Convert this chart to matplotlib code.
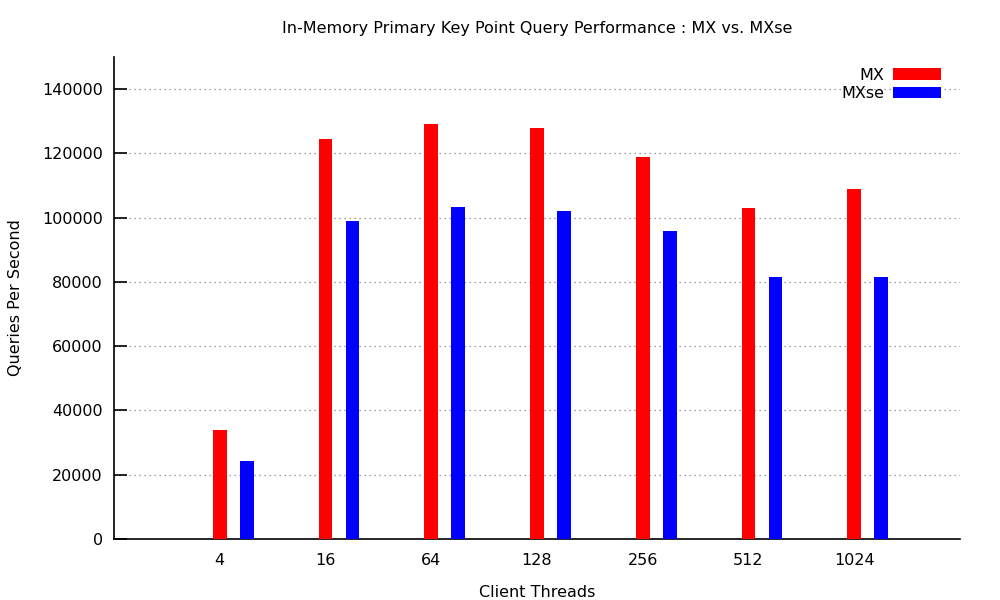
import matplotlib
matplotlib.use("Agg")
import matplotlib.pyplot as plt
import numpy as np

plt.rcParams['font.family'] = 'DejaVu Sans'

threads = ['4', '16', '64', '128', '256', '512', '1024']
mx = [34000, 124500, 129000, 128000, 119000, 103000, 109000]
mxse = [24300, 99000, 103300, 102000, 96000, 81500, 81500]

x = np.arange(1, len(threads) + 1)
width = 0.13

fig = plt.figure(figsize=(10, 6), dpi=100)
ax = fig.add_axes([0.114, 0.1017, 0.846, 0.8033])

ax.bar(x, mx, width, color='#ff0000', label='MX', zorder=3)
ax.bar(x + 0.255, mxse, width, color='#0000ff', label='MXse', zorder=3)

ax.set_xlim(0, 8)
ax.set_ylim(0, 150000)
ax.set_xticks(x)
ax.set_xticklabels(threads)
ax.set_yticks(range(0, 140001, 20000))
ax.tick_params(axis='x', length=0, labelsize=11.5, pad=10)
ax.tick_params(axis='y', direction='in', length=9, width=1.2, labelsize=11.5, pad=8)

ax.spines['top'].set_visible(False)
ax.spines['right'].set_visible(False)
ax.spines['left'].set_linewidth(1.2)
ax.spines['bottom'].set_linewidth(1.2)

ax.grid(axis='y', linestyle=(0, (1, 3)), color='#808080', linewidth=0.9, zorder=0)

ax.set_xlabel('Client Threads', fontsize=11.5, labelpad=12)
ax.set_ylabel('Queries Per Second', fontsize=11.5, labelpad=14)
fig.text(0.537, 0.952, 'In-Memory Primary Key Point Query Performance : MX vs. MXse',
         ha='center', va='center', fontsize=11.5)

ax.legend(loc='upper right', bbox_to_anchor=(0.947, 0.898), bbox_transform=fig.transFigure,
          frameon=False, markerfirst=False, fontsize=11.5, handlelength=3.0,
          handleheight=0.7, handletextpad=0.55, labelspacing=0.2, borderaxespad=0)

fig.savefig('out.png', dpi=100)
